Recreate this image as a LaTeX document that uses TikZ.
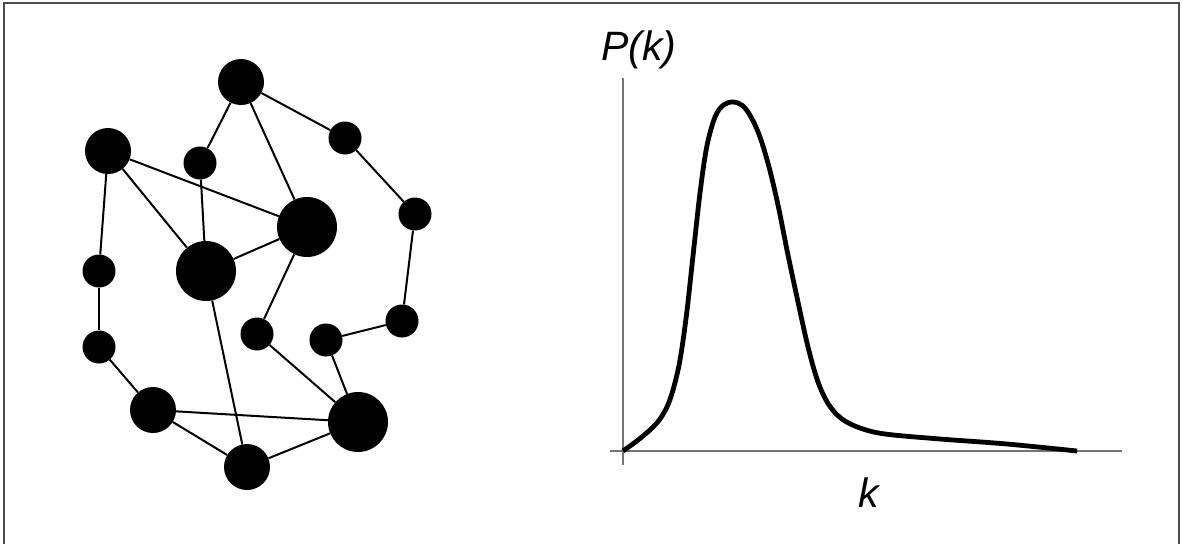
\documentclass[tikz,border=0pt]{standalone}
\usepackage{fontspec}
\setmainfont{Liberation Sans}
\begin{document}
\begin{tikzpicture}[x=1pt,y=-1pt,
  dot/.style={circle,fill=black,inner sep=0pt},
  sm/.style={dot,minimum size=33pt},
  md/.style={dot,minimum size=46pt},
  lg/.style={dot,minimum size=60pt},
  edge/.style={line width=2pt},
  axisline/.style={line width=1.2pt,black!55},
  lbl/.style={font=\fontsize{41}{48}\selectfont\itshape,inner sep=0pt}]
\useasboundingbox (0,0) rectangle (1183,544);
\draw[black!70,line width=1.5pt] (4,544) -- (4,3) -- (1179,3) -- (1179,544);
% graph nodes
\node[md] (n1) at (241,82) {};
\node[md] (n2) at (108,151) {};
\node[sm] (n3) at (200,163) {};
\node[sm] (n4) at (345,138) {};
\node[sm] (n5) at (415,214) {};
\node[lg] (n6) at (307,227) {};
\node[lg] (n7) at (206,271) {};
\node[sm] (n8) at (99,271) {};
\node[sm] (n9) at (99,347) {};
\node[sm] (n10) at (257,334) {};
\node[sm] (n11) at (326,340) {};
\node[sm] (n12) at (402,321) {};
\node[md] (n13) at (153,410) {};
\node[lg] (n14) at (358,422) {};
\node[md] (n15) at (247,467) {};
% edges
\draw[edge] (n1) -- (n3);
\draw[edge] (n1) -- (n4);
\draw[edge] (n1) -- (n6);
\draw[edge] (n2) -- (n6);
\draw[edge] (n2) -- (n7);
\draw[edge] (n2) -- (n8);
\draw[edge] (n3) -- (n7);
\draw[edge] (n4) -- (n5);
\draw[edge] (n5) -- (n12);
\draw[edge] (n6) -- (n7);
\draw[edge] (n6) -- (n10);
\draw[edge] (n7) -- (n15);
\draw[edge] (n8) -- (n9);
\draw[edge] (n9) -- (n13);
\draw[edge] (n10) -- (n14);
\draw[edge] (n11) -- (n12);
\draw[edge] (n11) -- (n14);
\draw[edge] (n13) -- (n14);
\draw[edge] (n13) -- (n15);
\draw[edge] (n15) -- (n14);
% plot
\draw[axisline] (623,78) -- (623,465);
\draw[axisline] (610,451) -- (1122,451);
\draw[line width=4.8pt,line join=round] plot[smooth,tension=0.55] coordinates {
 (623,451) (640,438.5) (656,424) (666,409) (673,390) (680,360) (686.7,313)
 (693.3,253) (700,193) (706.7,147) (715,117) (723.5,105) (733,102)
 (742.5,105.5) (751,117) (760,137) (769,167) (778,205) (788,255)
 (798,302) (808,347) (818,382) (829,405) (842,419) (860,428)
 (885,434) (940,439) (1007,444) (1077,451)};
\node[lbl,anchor=base] (pk) at (639,60) {P(k)};
\node[lbl,anchor=base] (k) at (869,507) {k};
\end{tikzpicture}
\end{document}
